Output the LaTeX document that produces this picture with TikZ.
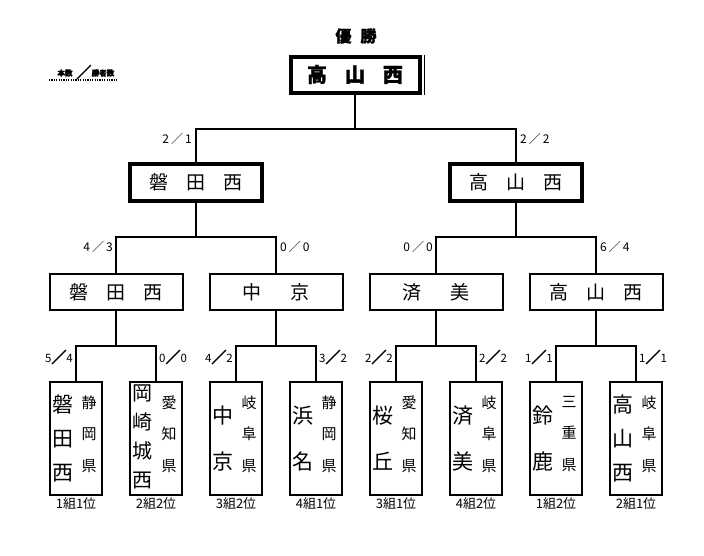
\documentclass[tikz,border=0pt]{standalone}
\usepackage{fontspec}
\setmainfont{Liberation Sans}
\newfontfamily\cjk{Noto Sans CJK JP}
\newfontfamily\cjkheavy[BoldFeatures={FakeBold=1.5}]{Noto Sans CJK JP}
\newfontfamily\cjkfb[FakeBold=4]{Noto Sans CJK JP}
\newcommand\myslash{{\cjkfb\fontsize{15}{15}\selectfont ／}}
\begin{document}
\begin{tikzpicture}[x=1pt,y=-1pt,
  conn/.style={line width=2pt},
  topbox/.style={draw,line width=4pt,minimum width=129,minimum height=36,inner sep=0,font=\cjkheavy\bfseries\fontsize{20}{20}\selectfont},
  semibox/.style={draw,line width=3.5pt,minimum width=132,minimum height=37,inner sep=0,font=\cjk\fontsize{19}{19}\selectfont},
  qbox/.style={draw,line width=2pt,minimum width=133,minimum height=36,inner sep=0,font=\cjk\fontsize{19}{19}\selectfont},
  tbox/.style={draw,line width=2pt,minimum width=52.5,minimum height=113,inner sep=0},
  team/.style={align=center,inner sep=0,font=\cjk\fontsize{21}{34}\selectfont},
  team2/.style={align=center,inner sep=0,font=\cjk\fontsize{21}{46}\selectfont},
  team4/.style={align=center,inner sep=0,font=\cjk\fontsize{20}{29}\selectfont},
  pref/.style={align=center,inner sep=0,font=\cjk\fontsize{15}{31.5}\selectfont},
  score/.style={inner sep=0,font=\cjk\fontsize{12}{12}\selectfont},
  bscore/.style={inner sep=0,font=\cjk\fontsize{11.5}{11.5}\selectfont},
  captxt/.style={inner sep=0,font=\cjk\fontsize{13}{13}\selectfont},
  legtxt/.style={inner sep=0,font=\cjkheavy\bfseries\fontsize{7.5}{7.5}\selectfont},
]
\useasboundingbox (0,0) rectangle (704,555);

% legend
\node[legtxt] (lg1) at (65,73) {本数};
\node[inner sep=0] (lgs) at (84,72) {\myslash};
\node[legtxt] (lg2) at (103,73) {勝者数};
\draw[line width=1.2pt,dash pattern=on 1.2pt off 1.2pt] (49,80) -- (117,80);

% title and champion
\node[inner sep=0,font=\cjkheavy\bfseries\fontsize{16}{16}\selectfont] (title) at (356,36) {優\hspace{9pt}勝};
\node[topbox] (w) at (355,74.5) {高\hspace{18pt}山\hspace{18pt}西};
\draw[line width=1pt] ([xshift=2.5]w.north east) -- ([xshift=2.5]w.south east);

% semifinal
\node[semibox] (s1) at (196,182.5) {磐\hspace{18pt}田\hspace{18pt}西};
\node[semibox] (s2) at (516,182.5) {高\hspace{18pt}山\hspace{18pt}西};

% quarterfinal
\node[qbox] (q1) at (116,292) {磐\hspace{18pt}田\hspace{18pt}西};
\node[qbox] (q2) at (276,292) {中\hspace{29pt}京};
\node[qbox] (q3) at (436,292) {済\hspace{29pt}美};
\node[qbox] (q4) at (596,292) {高\hspace{18pt}山\hspace{18pt}西};

% teams
\foreach \i/\x in {1/76,2/156,3/236,4/316,5/396,6/476,7/556,8/636}{
  \node[tbox] (b\i) at (\x,438.5) {};
}
\node[team]  (n1) at ([xshift=-13]b1.center) {磐\\田\\西};
\node[team4] (n2) at ([shift={(-14,-2)}]b2.center) {岡\\崎\\城\\西};
\node[team2] (n3) at ([xshift=-13]b3.center) {中\\京};
\node[team2] (n4) at ([xshift=-13]b4.center) {浜\\名};
\node[team2] (n5) at ([xshift=-13]b5.center) {桜\\丘};
\node[team2] (n6) at ([xshift=-13]b6.center) {済\\美};
\node[team2] (n7) at ([xshift=-13]b7.center) {鈴\\鹿};
\node[team]  (n8) at ([xshift=-13]b8.center) {高\\山\\西};

\node[pref] (p1) at ([shift={(13,-4.5)}]b1.center) {静\\岡\\県};
\node[pref] (p2) at ([shift={(13,-4.5)}]b2.center) {愛\\知\\県};
\node[pref] (p3) at ([shift={(13,-4.5)}]b3.center) {岐\\阜\\県};
\node[pref] (p4) at ([shift={(13,-4.5)}]b4.center) {静\\岡\\県};
\node[pref] (p5) at ([shift={(13,-4.5)}]b5.center) {愛\\知\\県};
\node[pref] (p6) at ([shift={(13,-4.5)}]b6.center) {岐\\阜\\県};
\node[pref] (p7) at ([shift={(13,-4.5)}]b7.center) {三\\重\\県};
\node[pref] (p8) at ([shift={(13,-4.5)}]b8.center) {岐\\阜\\県};

\node[captxt] (c1) at (76,504) {1組1位};
\node[captxt] (c2) at (156,504) {2組2位};
\node[captxt] (c3) at (236,504) {3組2位};
\node[captxt] (c4) at (316,504) {4組1位};
\node[captxt] (c5) at (396,504) {3組1位};
\node[captxt] (c6) at (476,504) {4組2位};
\node[captxt] (c7) at (556,504) {1組2位};
\node[captxt] (c8) at (636,504) {2組1位};

% connectors
\coordinate (j0) at (355,129);
\draw[conn] (w.south) -- (j0);
\draw[conn] (s1.north) |- (j0) -| (s2.north);
\coordinate (j1) at (196,237);
\coordinate (j2) at (516,237);
\draw[conn] (s1.south) -- (j1);
\draw[conn] (s2.south) -- (j2);
\draw[conn] (q1.north) |- (j1) -| (q2.north);
\draw[conn] (q3.north) |- (j2) -| (q4.north);
\coordinate (k1) at (116,346);
\coordinate (k2) at (276,346);
\coordinate (k3) at (436,346);
\coordinate (k4) at (596,346);
\draw[conn] (q1.south) -- (k1);
\draw[conn] (q2.south) -- (k2);
\draw[conn] (q3.south) -- (k3);
\draw[conn] (q4.south) -- (k4);
\draw[conn] (b1.north) |- (k1) -| (b2.north);
\draw[conn] (b3.north) |- (k2) -| (b4.north);
\draw[conn] (b5.north) |- (k3) -| (b6.north);
\draw[conn] (b7.north) |- (k4) -| (b8.north);

% scores
\node[score,anchor=east] (l1) at (192,139) {2\,／\,1};
\node[score,anchor=west] (l2) at (520,139) {2\,／\,2};
\node[score,anchor=east] (l3) at (113,247) {4\,／\,3};
\node[score,anchor=west] (l4) at (280,247) {0\,／\,0};
\node[score,anchor=east] (l5) at (433,247) {0\,／\,0};
\node[score,anchor=west] (l6) at (600,247) {6\,／\,4};

\node[bscore,anchor=east] (m1) at (73,357) {5\myslash4};
\node[bscore,anchor=west] (m2) at (159,357) {0\myslash0};
\node[bscore,anchor=east] (m3) at (233,357) {4\myslash2};
\node[bscore,anchor=west] (m4) at (319,357) {3\myslash2};
\node[bscore,anchor=east] (m5) at (393,357) {2\myslash2};
\node[bscore,anchor=west] (m6) at (479,357) {2\myslash2};
\node[bscore,anchor=east] (m7) at (553,357) {1\myslash1};
\node[bscore,anchor=west] (m8) at (639,357) {1\myslash1};
\end{tikzpicture}
\end{document}
